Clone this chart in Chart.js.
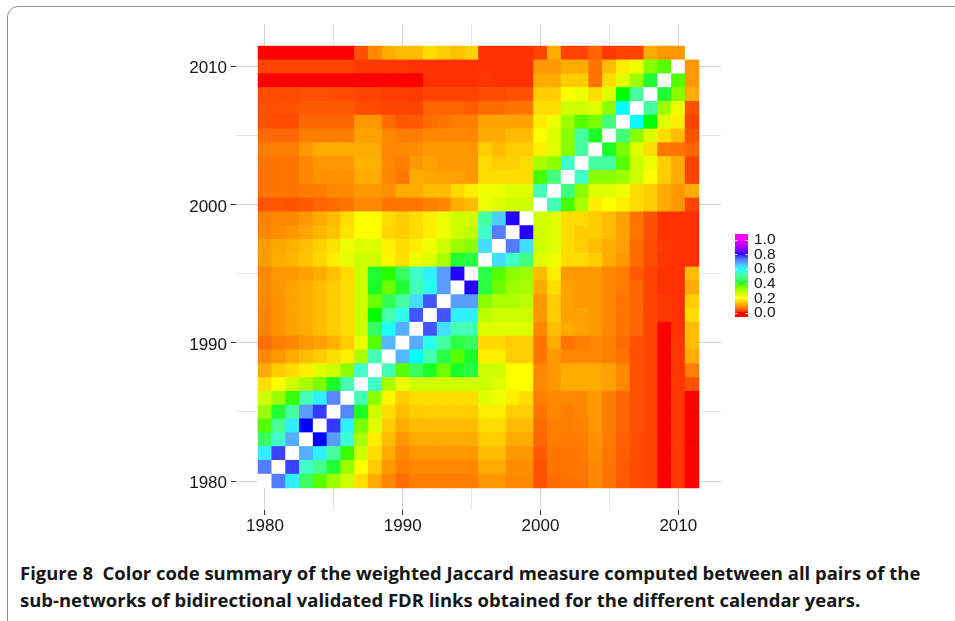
<!DOCTYPE html>
<html><head><meta charset="utf-8">
<script src="https://cdn.jsdelivr.net/npm/chart.js@4.4.1/dist/chart.umd.min.js"></script>
<style>
html,body{margin:0;padding:0;background:#fff;width:955px;height:621px;overflow:hidden;}
#frame{position:absolute;left:7px;top:6px;width:1000px;height:700px;border:1px solid #8f8f8f;border-radius:11px;box-sizing:border-box;}
#wrap{position:absolute;left:0;top:0;width:955px;height:545px;}
.cap{position:absolute;left:20px;font-family:"Open Sans";font-weight:700;font-size:17px;line-height:27px;color:#161616;white-space:nowrap;}
#l1{top:559px;}
#l2{top:586px;}
</style></head><body>
<div id="frame"></div>
<div id="wrap"><canvas id="c" width="955" height="545"></canvas></div>
<div class="cap" id="l1">Figure 8&nbsp;&nbsp;Color code summary of the weighted Jaccard measure computed between all pairs of the</div>
<div class="cap" id="l2">sub-networks of bidirectional validated FDR links obtained for the different calendar years.</div>
<script>
// ---- data ----
const years = [1980,1981,1982,1983,1984,1985,1986,1987,1988,1989,1990,1991,1992,1993,1994,1995,
               1996,1997,1998,1999,2000,2001,2002,2003,2004,2005,2006,2007,2008,2009,2010,2011];
const axisTickLabels = [1980,1990,2000,2010];
const gridYears = [1980,1985,1990,1995,2000,2005,2010];
const legendTicks = [0.0,0.2,0.4,0.6,0.8,1.0];
const legendColours = [[255,0,0],[255,255,0],[0,255,0],[0,255,255],[0,0,255],[255,0,255]];

// weighted Jaccard value for each (row year, column year); null = diagonal (drawn white)
const y1980 = [null,.72,.615,.445,.375,.32,.264,.166,.11,.075,.05, .066,.066,.066,.066,.066,.09,.09,.075,.075,.03,.05, .055,.058,.075,.058,.036,.026,.021,0,.015,0];
const y1981 = [.72,null,.77,.545,.49,.415,.32,.2,.145,.09,.066, .075,.075,.075,.075,.075,.11,.11,.08,.08,.03,.058, .06,.06,.075,.058,.038,.026,.021,0,.015,0];
const y1982 = [.615,.77,null,.675,.615,.505,.39,.264,.163,.11,.075, .09,.09,.09,.09,.09,.127,.127,.09,.09,.036,.058, .06,.062,.08,.06,.04,.028,.021,0,.015,0];
const y1983 = [.445,.545,.675,null,.8,.69,.56,.304,.181,.127,.09, .11,.11,.11,.11,.11,.145,.145,.11,.11,.045,.066, .062,.066,.085,.062,.04,.028,.021,0,.015,0];
const y1984 = [.375,.49,.615,.8,null,.775,.615,.351,.244,.145,.11, .127,.127,.127,.127,.127,.163,.163,.127,.127,.05,.066, .066,.07,.09,.066,.045,.03,.021,0,.015,0];
const y1985 = [.32,.415,.505,.69,.775,null,.71,.41,.264,.163,.127, .145,.145,.145,.145,.145,.181,.181,.145,.145,.058,.075, .066,.075,.09,.066,.045,.03,.021,0,.015,0];
const y1986 = [.264,.32,.39,.53,.615,.71,null,.525,.337,.19,.145, .163,.163,.163,.163,.163,.244,.222,.181,.163,.066,.075, .075,.075,.09,.066,.045,.03,.021,0,.015,0];
const y1987 = [.166,.2,.264,.304,.351,.41,.525,null,.545,.304,.222, .264,.264,.264,.264,.264,.264,.244,.2,.2,.075,.09, .11,.11,.11,.1,.075,.03,.021,0,.015,.03];
const y1988 = [.11,.145,.163,.181,.244,.264,.337,.545,null,.525,.375, .445,.41,.36,.41,.425,.264,.264,.2,.2,.075,.09, .11,.11,.11,.1,.075,.03,.021,0,.015,.066];
const y1989 = [.075,.09,.11,.127,.145,.163,.181,.304,.525,null,.665, .6,.525,.425,.375,.41,.181,.181,.145,.145,.058,.09, .075,.075,.075,.066,.058,.03,.021,0,.015,.11];
const y1990 = [.05,.066,.075,.09,.1,.115,.145,.222,.375,.665,null, .675,.58,.505,.425,.445,.16,.16,.145,.145,.058,.11, .058,.066,.075,.066,.05,.03,.021,0,.015,.127];
const y1991 = [.072,.085,.1,.11,.127,.145,.163,.264,.445,.59,.675, null,.755,.63,.525,.525,.244,.244,.244,.244,.075,.127, .11,.1,.09,.075,.058,.045,.021,0,.012,.127];
const y1992 = [.072,.085,.1,.11,.127,.145,.163,.264,.4,.515,.58, .755,null,.755,.615,.615,.285,.264,.264,.264,.09,.145, .1,.1,.09,.075,.058,.045,.021,.015,.012,.163];
const y1993 = [.075,.085,.1,.11,.127,.145,.163,.264,.36,.435,.505, .63,.755,null,.69,.69,.337,.304,.304,.285,.09,.145, .1,.09,.09,.075,.058,.045,.021,.015,.012,.145];
const y1994 = [.078,.088,.1,.11,.127,.145,.163,.264,.41,.36,.415, .525,.58,.69,null,.805,.425,.36,.32,.304,.11,.163, .1,.09,.09,.075,.066,.045,.021,.012,.012,.11];
const y1995 = [.075,.09,.09,.1,.11,.132,.163,.264,.415,.395,.445, .545,.615,.69,.805,null,.425,.375,.337,.32,.127,.181, .09,.09,.09,.075,.066,.036,.021,.012,.012,.127];
const y1996 = [.095,.11,.12,.135,.155,.181,.233,.264,.264,.19,.165, .222,.244,.304,.415,.425,null,.63,.545,.475,.244,.222, .163,.163,.145,.11,.09,.05,.026,.014,.012,.012];
const y1997 = [.095,.105,.115,.13,.15,.17,.225,.25,.25,.185,.163, .181,.222,.264,.32,.337,.63,null,.72,.63,.264,.244, .163,.145,.127,.11,.1,.05,.026,.015,.012,.012];
const y1998 = [.075,.08,.09,.105,.12,.135,.17,.2,.2,.155,.145, .163,.181,.222,.264,.285,.545,.72,null,.805,.264,.244, .163,.145,.145,.127,.1,.058,.03,.012,.012,.012];
const y1999 = [.07,.075,.075,.09,.11,.127,.163,.2,.2,.163,.145, .163,.181,.222,.264,.264,.505,.645,.805,null,.264,.244, .163,.163,.145,.127,.1,.058,.03,.012,.012,.012];
const y2000 = [.032,.032,.03,.036,.045,.05,.058,.075,.075,.058,.06, .058,.066,.075,.11,.127,.222,.244,.264,.264,null,.525, .383,.304,.181,.2,.181,.163,.145,.11,.09,.021];
const y2001 = [.058,.058,.058,.062,.066,.075,.075,.09,.09,.082,.11, .11,.127,.127,.16,.181,.222,.222,.244,.244,.525,null, .475,.337,.244,.244,.222,.163,.145,.11,.09,.11];
const y2002 = [.058,.058,.058,.075,.085,.085,.085,.11,.11,.075,.058, .11,.105,.1,.1,.09,.163,.163,.163,.163,.383,.475, null,.545,.337,.337,.32,.264,.2,.145,.11,.021];
const y2003 = [.058,.058,.058,.075,.09,.09,.09,.115,.115,.075,.066, .09,.1,.09,.09,.09,.163,.145,.145,.163,.304,.337, .545,null,.505,.505,.375,.264,.222,.145,.11,.021];
const y2004 = [.066,.066,.066,.09,.11,.11,.11,.11,.11,.075,.075, .08,.09,.09,.09,.09,.145,.127,.145,.145,.181,.244, .337,.505,null,.41,.351,.244,.163,.058,.058,.045];
const y2005 = [.05,.045,.045,.066,.066,.066,.066,.1,.1,.075,.066, .066,.075,.075,.075,.075,.11,.11,.127,.127,.2,.244, .337,.505,.41,null,.47,.337,.244,.163,.127,.03];
const y2006 = [.03,.026,.026,.045,.045,.045,.045,.09,.09,.05,.032, .036,.05,.058,.066,.066,.1,.1,.1,.1,.181,.222, .32,.375,.351,.47,null,.6,.4,.244,.181,.021];
const y2007 = [.03,.03,.03,.036,.036,.036,.036,.026,.026,.021,.021, .021,.045,.045,.045,.036,.05,.05,.058,.058,.163,.163, .264,.264,.244,.337,.6,null,.505,.32,.222,.03];
const y2008 = [.026,.026,.026,.028,.028,.026,.026,.021,.021,.018,.018, .015,.021,.021,.021,.021,.026,.026,.03,.03,.145,.145, .2,.222,.163,.244,.4,.505,null,.415,.337,.11];
const y2009 = [0,0,0,0,0,0,0,0,0,0,0, 0,.012,.012,.012,.012,.014,.012,.012,.012,.11,.11, .145,.145,.058,.163,.244,.32,.415,null,.375,.09];
const y2010 = [.021,.021,.021,.021,.021,.021,.021,.015,.015,.015,.015, .012,.012,.012,.012,.012,.012,.012,.012,.012,.09,.09, .11,.11,.058,.127,.181,.222,.337,.375,null,.09];
const y2011 = [0,0,0,0,0,0,0,.03,.075,.11,.127, .127,.163,.145,.132,.15,.012,.012,.012,.012,.021,.11, .021,.021,.045,.015,.021,.021,.11,.09,.09,null];

const matrix = [y1980,y1981,y1982,y1983,y1984,y1985,y1986,y1987,y1988,y1989,y1990,y1991,y1992,y1993,y1994,y1995,
                y1996,y1997,y1998,y1999,y2000,y2001,y2002,y2003,y2004,y2005,y2006,y2007,y2008,y2009,y2010,y2011];

// ---- colour scale: Lab interpolation between rainbow stops ----
function toLin(c){c/=255;return c<=0.04045?c/12.92:Math.pow((c+0.055)/1.055,2.4);}
function toSrgb(c){c=c<=0.0031308?12.92*c:1.055*Math.pow(Math.max(c,0),1/2.4)-0.055;return Math.round(Math.max(0,Math.min(1,c))*255);}
function rgbToLab(rgb){
  const R=toLin(rgb[0]),G=toLin(rgb[1]),B=toLin(rgb[2]);
  const X=(0.4124*R+0.3576*G+0.1805*B)/0.95047,Y=0.2126*R+0.7152*G+0.0722*B,Z=(0.0193*R+0.1192*G+0.9505*B)/1.08883;
  const f=t=>t>0.008856?Math.cbrt(t):7.787*t+16/116;
  const fx=f(X),fy=f(Y),fz=f(Z);return [116*fy-16,500*(fx-fy),200*(fy-fz)];
}
function labToRgb(l){
  const fy=(l[0]+16)/116,fx=fy+l[1]/500,fz=fy-l[2]/200;
  const inv=t=>t>0.206893?t*t*t:(t-16/116)/7.787;
  const X=inv(fx)*0.95047,Y=inv(fy),Z=inv(fz)*1.08883;
  return [toSrgb(3.2406*X-1.5372*Y-0.4986*Z),toSrgb(-0.9689*X+1.8758*Y+0.0415*Z),toSrgb(0.0557*X-0.2040*Y+1.0570*Z)];
}
const labStops = legendColours.map(rgbToLab);
function colourFor(v){
  if(v==null) return '#ffffff';
  v=Math.max(0,Math.min(1,v));
  const p=v*(labStops.length-1);let i=Math.floor(p);if(i>=labStops.length-1)i=labStops.length-2;
  const t=p-i,a=labStops[i],b=labStops[i+1];
  const c=labToRgb([a[0]+(b[0]-a[0])*t,a[1]+(b[1]-a[1])*t,a[2]+(b[2]-a[2])*t]);
  return 'rgb('+c[0]+','+c[1]+','+c[2]+')';
}

// ---- datasets: one floating-bar series per row year ----
const datasets = years.map((ry,ri)=>({
  label:String(ry),
  data: years.map((cx,ci)=>({x:cx,y:[ry-0.5,ry+0.5],v:matrix[ri][ci]})),
  backgroundColor: ctx => ctx.raw ? colourFor(ctx.raw.v) : 'rgba(0,0,0,0)',
  borderWidth:0, grouped:false, barPercentage:1, categoryPercentage:1
}));

const colourbar = {
  id:'colourbar',
  afterDraw(chart){
    const ctx=chart.ctx, x0=735, w=13, top=234, bot=317, v0y=312.5, v1y=239.5;
    ctx.save();
    for(let y=top;y<bot;y++){
      const v=(v0y-(y+0.5))/(v0y-v1y);
      ctx.fillStyle=colourFor(Math.max(0,Math.min(1,v)));ctx.fillRect(x0,y,w,1);
    }
    ctx.strokeStyle='rgba(255,255,255,0.9)';ctx.lineWidth=1;
    ctx.fillStyle='#161616';ctx.font='15.5px "Liberation Sans", Arial, sans-serif';ctx.textBaseline='middle';ctx.textAlign='left';
    legendTicks.forEach(t=>{
      const y=v0y-(v0y-v1y)*t;
      ctx.beginPath();ctx.moveTo(x0,Math.round(y)+0.5);ctx.lineTo(x0+2.5,Math.round(y)+0.5);
      ctx.moveTo(x0+w-2.5,Math.round(y)+0.5);ctx.lineTo(x0+w,Math.round(y)+0.5);ctx.stroke();
      ctx.fillText(t.toFixed(1),754,y+0.5);
    });
    ctx.restore();
  }
};

const gridColour = c => (c.tick && axisTickLabels.includes(c.tick.value)) ? '#d4d4d4' : '#e6e6e6';
const tickColour = c => (c.tick && axisTickLabels.includes(c.tick.value)) ? '#333333' : 'rgba(0,0,0,0)';
const axisFont = {family:'"Liberation Sans", Arial, sans-serif', size:17};

new Chart(document.getElementById('c'),{
  type:'bar',
  data:{datasets},
  plugins:[colourbar],
  options:{
    responsive:false, animation:false, devicePixelRatio:1,
    layout:{padding:{top:24,right:234,bottom:0,left:0}},
    plugins:{legend:{display:false},tooltip:{enabled:false}},
    scales:{
      x:{type:'linear',min:1977.9,max:2013.1,offset:false,
         afterBuildTicks:s=>{s.ticks=gridYears.map(v=>({value:v}));},
         afterFit:s=>{s.height=35;},
         grid:{offset:false,color:gridColour,tickColor:tickColour,tickLength:5,lineWidth:1},
         border:{display:false},
         ticks:{autoSkip:false,maxRotation:0,padding:1,color:'#161616',font:axisFont,
                callback:v=>axisTickLabels.includes(v)?String(v):''}},
      y:{type:'linear',min:1977.9,max:2013.1,
         afterBuildTicks:s=>{s.ticks=gridYears.map(v=>({value:v}));},
         afterFit:s=>{s.width=236;},
         grid:{color:gridColour,tickColor:tickColour,tickLength:5,lineWidth:1},
         border:{display:false},
         ticks:{autoSkip:false,padding:4,labelOffset:2,color:'#161616',font:axisFont,
                callback:v=>axisTickLabels.includes(v)?String(v):''}}
    }
  }
});

// fit caption line 1 to its width in the reference
(document.fonts?document.fonts.ready:Promise.resolve()).then(()=>{
  const l1=document.getElementById('l1'),l2=document.getElementById('l2');
  const w=l1.getBoundingClientRect().width;
  const fs=17*901/w;
  l1.style.fontSize=fs+'px';l2.style.fontSize=fs+'px';
});
</script>
</body></html>
